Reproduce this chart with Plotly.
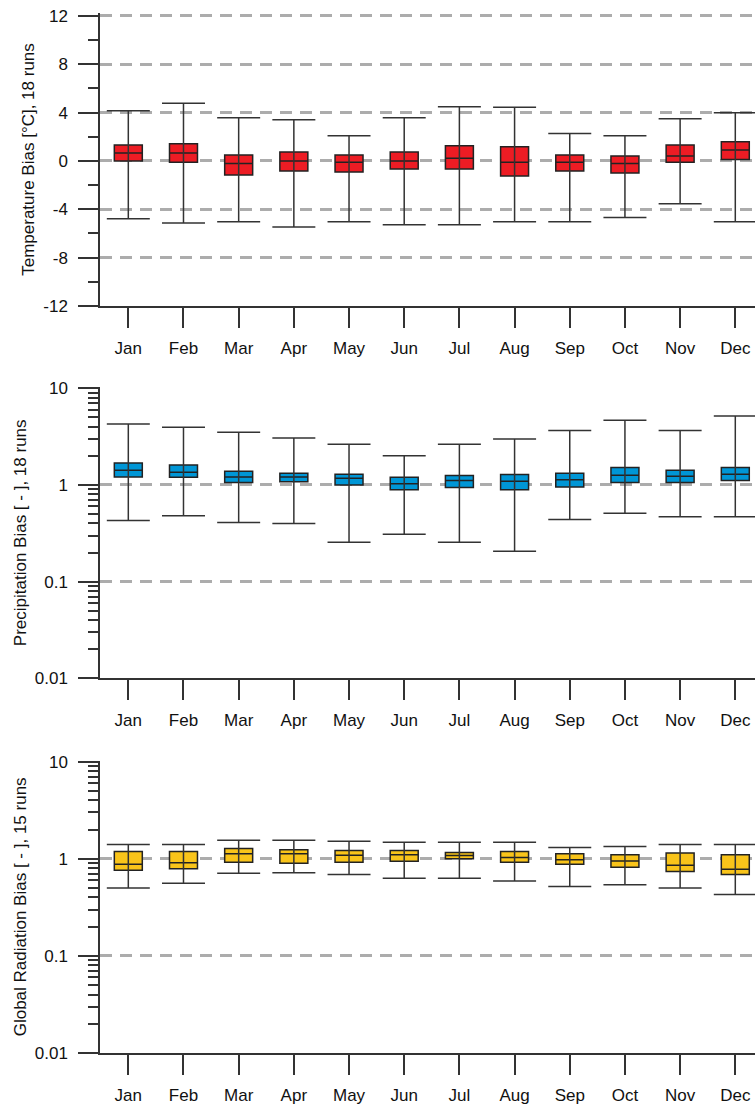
import plotly.graph_objects as go

months = ["Jan", "Feb", "Mar", "Apr", "May", "Jun", "Jul", "Aug", "Sep", "Oct", "Nov", "Dec"]

# Temperature bias [°C]
temp_low = [-4.78, -5.13, -5.02, -5.46, -5.02, -5.27, -5.27, -5.02, -5.02, -4.67, -3.53, -5.02]
temp_q1 = [0.0, -0.11, -1.16, -0.83, -0.91, -0.66, -0.66, -1.24, -0.83, -0.99, -0.11, 0.13]
temp_med = [0.66, 0.66, -0.2, 0.0, -0.11, 0.0, 0.22, -0.11, -0.11, -0.2, 0.41, 0.91]
temp_q3 = [1.32, 1.43, 0.50, 0.74, 0.50, 0.74, 1.27, 1.18, 0.50, 0.41, 1.32, 1.6]
temp_high = [4.16, 4.77, 3.58, 3.42, 2.09, 3.58, 4.5, 4.44, 2.28, 2.09, 3.5, 4.0]

# Precipitation bias [-]
prec_low = [0.43, 0.48, 0.41, 0.40, 0.255, 0.31, 0.255, 0.206, 0.44, 0.51, 0.47, 0.47]
prec_q1 = [1.21, 1.20, 1.06, 1.08, 1.0, 0.89, 0.94, 0.89, 0.95, 1.06, 1.06, 1.11]
prec_med = [1.42, 1.35, 1.21, 1.21, 1.17, 1.03, 1.11, 1.09, 1.13, 1.26, 1.23, 1.29]
prec_q3 = [1.69, 1.61, 1.39, 1.32, 1.29, 1.20, 1.25, 1.28, 1.32, 1.52, 1.42, 1.52]
prec_high = [4.27, 3.95, 3.51, 3.06, 2.64, 2.01, 2.64, 2.99, 3.65, 4.67, 3.65, 5.17]

# Global radiation bias [-]
rad_low = [0.50, 0.56, 0.71, 0.72, 0.69, 0.63, 0.63, 0.59, 0.52, 0.54, 0.50, 0.43]
rad_q1 = [0.76, 0.79, 0.92, 0.90, 0.92, 0.945, 1.0, 0.92, 0.88, 0.82, 0.74, 0.69]
rad_med = [0.88, 0.91, 1.13, 1.13, 1.09, 1.10, 1.08, 1.03, 0.98, 0.95, 0.86, 0.78]
rad_q3 = [1.19, 1.19, 1.28, 1.24, 1.22, 1.22, 1.16, 1.19, 1.13, 1.10, 1.15, 1.10]
rad_high = [1.40, 1.40, 1.55, 1.55, 1.52, 1.48, 1.48, 1.48, 1.31, 1.34, 1.40, 1.40]

titles = ["Temperature Bias [°C], 18 runs", "Precipitation Bias [ - ], 18 runs",
          "Global Radiation Bias [ - ], 15 runs"]
colors = ["#ED1C24", "#0096D6", "#F9C41A"]

pos = list(range(len(months)))
FONT = "Liberation Sans, Arial, sans-serif"
DARK = "#333333"
FS = 17

fig = go.Figure()

panels = [
    (temp_low, temp_q1, temp_med, temp_q3, temp_high),
    (prec_low, prec_q1, prec_med, prec_q3, prec_high),
    (rad_low, rad_q1, rad_med, rad_q3, rad_high),
]

for i, (lo, q1, md, q3, hi) in enumerate(panels):
    xa = "x" if i == 0 else f"x{i+1}"
    ya = "y" if i == 0 else f"y{i+1}"
    fig.add_trace(go.Scatter(
        x=pos, y=lo, mode="markers",
        marker=dict(size=1, color="rgba(0,0,0,0)"),
        error_y=dict(type="data", symmetric=False,
                     array=[h - l for h, l in zip(hi, lo)],
                     arrayminus=[0] * len(lo),
                     width=21.5, thickness=1.5, color=DARK),
        xaxis=xa, yaxis=ya, showlegend=False, hoverinfo="skip"))
    fig.add_trace(go.Box(
        x=pos, q1=q1, median=md, q3=q3, lowerfence=q1, upperfence=q3,
        width=0.507, fillcolor=colors[i], line=dict(color="#222222", width=1.5),
        whiskerwidth=0, boxpoints=False, xaxis=xa, yaxis=ya, showlegend=False))

W, H = 755, 1106
mt, mb, ml, mr = 12, 53, 100, 0
ph = H - mt - mb

def dom(top_px, bot_px):
    lo = max(0.0, (H - mb - bot_px) / ph)
    hi = min(1.0, (H - mb - top_px) / ph)
    return [lo, hi]

# small extension above the top tick so that the top gridline is drawn
ext_lin = 0.25      # data units (°C)
ext_log = 0.01      # decades
px_lin = 290 / 24.0
px_log = 290 / 3.0
domains = [dom(16 - ext_lin * px_lin, 306),
           dom(388.3 - ext_log * px_log, 678.3),
           dom(761.7 - ext_log * px_log, 1053)]

xcommon = dict(range=[-0.513, 11.357], tickmode="array", tickvals=pos, ticktext=months,
               ticks="outside", ticklen=20, tickwidth=1.5, tickcolor=DARK,
               showline=True, linecolor=DARK, linewidth=1.5, showgrid=False,
               zeroline=False, ticklabelstandoff=6,
               tickfont=dict(family=FONT, size=FS, color="#111"))

layout = dict(width=W, height=H, margin=dict(l=ml, r=mr, t=mt, b=mb),
              plot_bgcolor="white", paper_bgcolor="white", showlegend=False)

decades = [0.01, 0.1, 1, 10]
minor_vals = [d * k for d in decades[:-1] for k in range(2, 10)]

for i in range(3):
    xk = "xaxis" if i == 0 else f"xaxis{i+1}"
    yk = "yaxis" if i == 0 else f"yaxis{i+1}"
    ya = "y" if i == 0 else f"y{i+1}"
    layout[xk] = dict(xcommon, anchor=ya)
    ycommon = dict(domain=domains[i], anchor="x" if i == 0 else f"x{i+1}",
                   ticks="outside", ticklen=20, tickwidth=1.5, tickcolor=DARK,
                   showline=True, linecolor=DARK, linewidth=1.5,
                   showgrid=True, gridcolor="#ACACAC", gridwidth=2.5, griddash="12px,8px",
                   zeroline=False, ticklabelstandoff=7,
                   tickfont=dict(family=FONT, size=FS, color="#111"),
                   title=dict(text=titles[i], font=dict(family=FONT, size=FS, color="#111"),
                              standoff=4))
    if i == 0:
        ycommon.update(range=[-12, 12 + ext_lin], tickmode="array",
                       tickvals=[-12, -8, -4, 0, 4, 8, 12],
                       ticktext=["-12", "-8", "-4", "0", "4", "8", "12"],
                       minor=dict(ticks="outside", ticklen=10, tickwidth=1.5, tickcolor=DARK,
                                  tickmode="array", tickvals=[-10, -6, -2, 2, 6, 10],
                                  showgrid=False))
    else:
        ycommon.update(type="log", range=[-2, 1 + ext_log], tickmode="array",
                       tickvals=decades, ticktext=["0.01", "0.1", "1", "10"],
                       minor=dict(ticks="outside", ticklen=10, tickwidth=1.5, tickcolor=DARK,
                                  tickmode="array", tickvals=minor_vals, showgrid=False))
    layout[yk] = ycommon

fig.update_layout(**layout)
fig.write_html("out.html", config={"displayModeBar": False},
               post_script="document.body.style.margin='0';")
